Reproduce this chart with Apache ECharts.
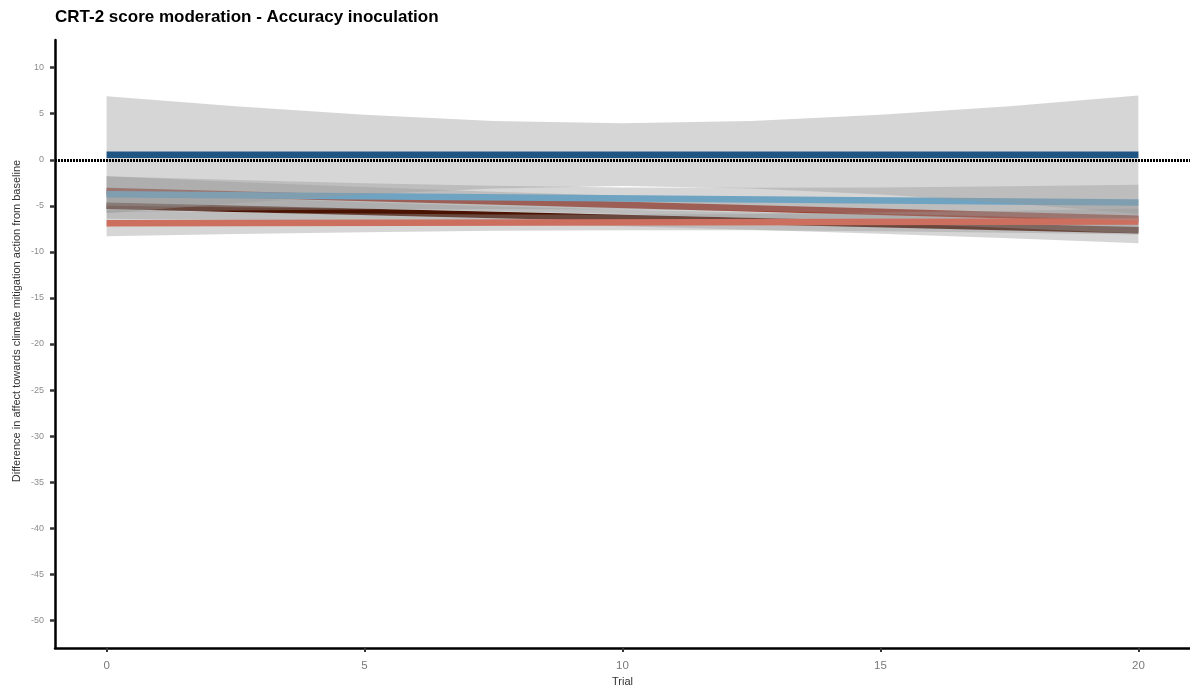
<!DOCTYPE html>
<html>
<head>
<meta charset="utf-8">
<script src="https://cdn.jsdelivr.net/npm/echarts@6/dist/echarts.min.js"></script>
<style>
  html, body { margin: 0; padding: 0; background: #ffffff; }
  #chart { width: 1190px; height: 689px; }
</style>
</head>
<body>
<div id="chart"></div>
<script>
// Tick values on each axis
const yTickValues = [-50, -45, -40, -35, -30, -25, -20, -15, -10, -5, 0, 5, 10];
const xTickValues = [0, 5, 10, 15, 20];

// Fitted lines, evaluated at the first and last trial
const fitTrials = [0, 20];
const fitDarkBrown = [-5.0, -7.65];
const fitRedBrown = [-3.4, -6.4];
const fitSalmon = [-6.9, -6.7];
const fitLightBlue = [-3.75, -4.65];
const fitDarkBlue = [0.55, 0.55];

// Confidence bands, sampled along the trial axis
const bandTrials = [0, 2.5, 5, 7.5, 10, 12.5, 15, 17.5, 20];
const bandDarkBrownUpper = [-3.60, -4.12, -4.61, -5.05, -5.43, -5.72, -5.94, -6.11, -6.25];
const bandDarkBrownLower = [-6.40, -6.54, -6.71, -6.93, -7.23, -7.60, -8.04, -8.53, -9.05];
const bandRedBrownUpper = [-1.80, -2.41, -2.97, -3.48, -3.90, -4.23, -4.47, -4.66, -4.80];
const bandRedBrownLower = [-5.00, -5.15, -5.33, -5.58, -5.90, -6.33, -6.83, -7.40, -8.00];
const bandSalmonUpper = [-5.50, -5.69, -5.83, -5.94, -5.95, -5.89, -5.73, -5.54, -5.30];
const bandSalmonLower = [-8.30, -8.07, -7.87, -7.71, -7.65, -7.66, -7.77, -7.91, -8.10];
const bandLightBlueUpper = [-1.80, -2.20, -2.56, -2.83, -3.00, -3.05, -3.01, -2.88, -2.70];
const bandLightBlueLower = [-5.70, -5.52, -5.40, -5.35, -5.40, -5.57, -5.85, -6.20, -6.60];
const bandDarkBlueUpper = [6.90, 5.82, 4.88, 4.21, 3.95, 4.21, 4.88, 5.82, 6.98];
const bandDarkBlueLower = [-5.80, -4.72, -3.78, -3.11, -2.85, -3.11, -3.78, -4.72, -5.85];

const groups = [
  { name: 'g1', color: '#4a1200', fit: fitDarkBrown, upper: bandDarkBrownUpper, lower: bandDarkBrownLower },
  { name: 'g2', color: '#a03a28', fit: fitRedBrown, upper: bandRedBrownUpper, lower: bandRedBrownLower },
  { name: 'g3', color: '#cc6f5f', fit: fitSalmon, upper: bandSalmonUpper, lower: bandSalmonLower },
  { name: 'g4', color: '#6fa3c2', fit: fitLightBlue, upper: bandLightBlueUpper, lower: bandLightBlueLower },
  { name: 'g5', color: '#1f5582', fit: fitDarkBlue, upper: bandDarkBlueUpper, lower: bandDarkBlueLower }
];

const FONT = '"Liberation Sans", Arial, sans-serif';

// Each group draws its band, then its line; later groups sit on top of earlier ones.
function bandSeries(g, z) {
  return {
    type: 'custom',
    name: g.name + ' band',
    silent: true,
    z: z,
    data: [[bandTrials[0], g.lower[0]]],
    renderItem: function (params, api) {
      const pts = [];
      for (let i = 0; i < bandTrials.length; i++) pts.push(api.coord([bandTrials[i], g.upper[i]]));
      for (let i = bandTrials.length - 1; i >= 0; i--) pts.push(api.coord([bandTrials[i], g.lower[i]]));
      return {
        type: 'polygon',
        shape: { points: pts },
        style: { fill: 'rgba(153,153,153,0.4)', stroke: null }
      };
    }
  };
}

function fitSeries(g, z) {
  return {
    type: 'line',
    name: g.name,
    silent: true,
    z: z,
    symbol: 'none',
    data: fitTrials.map((t, i) => [t, g.fit[i]]),
    lineStyle: { color: g.color, width: 6.5, cap: 'butt' }
  };
}

const series = [];
groups.forEach((g, i) => {
  series.push(bandSeries(g, 2 + 2 * i));
  series.push(fitSeries(g, 3 + 2 * i));
});

// Reference line at zero difference
series.push({
  type: 'line',
  name: 'zero',
  silent: true,
  z: 20,
  data: [],
  markLine: {
    silent: true,
    z: 20,
    symbol: ['none', 'none'],
    label: { show: false },
    lineStyle: { color: '#000000', width: 3, type: [2, 1] },
    data: [{ yAxis: 0 }]
  }
});

const chart = echarts.init(document.getElementById('chart'), null, { renderer: 'canvas' });
chart.setOption({
  animation: false,
  backgroundColor: '#ffffff',
  title: {
    text: 'CRT-2 score moderation - Accuracy inoculation',
    left: 55,
    top: 9,
    padding: 0,
    textStyle: { fontFamily: FONT, fontWeight: 'bold', fontSize: 17, color: '#000000' }
  },
  grid: { left: 55, right: 0, top: 40, bottom: 41, containLabel: false, outerBoundsMode: 'none' },
  xAxis: {
    type: 'value',
    min: -1,
    max: 21,
    name: 'Trial',
    nameLocation: 'middle',
    nameGap: 28,
    nameTextStyle: { fontFamily: FONT, fontSize: 11, color: '#333333' },
    axisLine: { show: true, onZero: false, lineStyle: { color: '#000000', width: 2.5 } },
    axisTick: { show: true, length: 4, customValues: xTickValues, lineStyle: { color: '#333333', width: 2 } },
    axisLabel: { customValues: xTickValues, fontFamily: FONT, fontSize: 11.5, color: '#7a7a7a', margin: 12 },
    splitLine: { show: false }
  },
  yAxis: {
    type: 'value',
    min: -53,
    max: 13,
    axisLine: { show: true, onZero: false, lineStyle: { color: '#000000', width: 2.5 } },
    axisTick: { show: true, length: 5, customValues: yTickValues, lineStyle: { color: '#333333', width: 2.5 } },
    axisLabel: { customValues: yTickValues, fontFamily: FONT, fontSize: 9, color: '#8c8c8c', margin: 11 },
    splitLine: { show: false }
  },
  graphic: [{
    type: 'text',
    x: 17,
    y: 321,
    rotation: Math.PI / 2,
    style: {
      text: 'Difference in affect towards climate mitigation action from baseline',
      fontFamily: FONT,
      fontSize: 11,
      fill: '#333333',
      textAlign: 'center',
      textVerticalAlign: 'middle'
    }
  }],
  series: series
});
</script>
</body>
</html>
